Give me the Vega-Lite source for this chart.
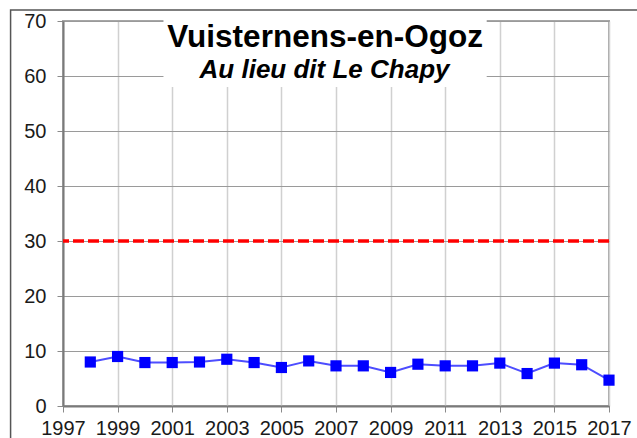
{
  "$schema": "https://vega.github.io/schema/vega-lite/v6.json",
  "width": 546,
  "height": 385,
  "autosize": {"type": "none"},
  "padding": {"left": 63, "top": 21, "right": 28, "bottom": 32},
  "background": "white",
  "config": {
    "font": "Liberation Sans",
    "view": {"stroke": "#a6a6a6", "strokeWidth": 2}
  },
  "data": {
    "values": [
      {"year": 1998, "value": 8.0},
      {"year": 1999, "value": 9.0},
      {"year": 2000, "value": 7.9},
      {"year": 2001, "value": 7.9},
      {"year": 2002, "value": 8.0},
      {"year": 2003, "value": 8.5},
      {"year": 2004, "value": 7.9},
      {"year": 2005, "value": 7.0},
      {"year": 2006, "value": 8.2},
      {"year": 2007, "value": 7.3},
      {"year": 2008, "value": 7.3},
      {"year": 2009, "value": 6.1},
      {"year": 2010, "value": 7.6},
      {"year": 2011, "value": 7.3},
      {"year": 2012, "value": 7.3},
      {"year": 2013, "value": 7.8},
      {"year": 2014, "value": 5.9},
      {"year": 2015, "value": 7.8},
      {"year": 2016, "value": 7.5},
      {"year": 2017, "value": 4.7}
    ]
  },
  "layer": [
    {
      "mark": {"type": "line", "color": "#4d4dff", "strokeWidth": 2,
        "point": {"shape": "square", "size": 125, "filled": true, "fill": "#0000ff", "stroke": "#0000ff", "strokeWidth": 0, "opacity": 1}},
      "encoding": {
        "x": {
          "field": "year", "type": "quantitative",
          "scale": {"domain": [1997, 2017], "nice": false, "zero": false},
          "axis": {
            "title": null,
            "values": [1997,1998,1999,2000,2001,2002,2003,2004,2005,2006,2007,2008,2009,2010,2011,2012,2013,2014,2015,2016,2017],
            "labelExpr": "datum.value % 2 == 1 ? datum.value + '' : ''",
            "labelOverlap": false,
            "labelFontSize": 20,
            "labelColor": "#1a1a1a",
            "labelPadding": 6,
            "labelFlush": false,
            "grid": true,
            "gridColor": "#d0d0d0",
            "gridWidth": 1.5,
            "domainColor": "#7a7a7a",
            "domainWidth": 2,
            "tickColor": "#8a8a8a",
            "tickSize": 6,
            "tickWidth": 1
          }
        },
        "y": {
          "field": "value", "type": "quantitative",
          "scale": {"domain": [0, 70], "nice": false},
          "axis": {
            "title": null,
            "values": [0, 10, 20, 30, 40, 50, 60, 70],
            "labelFontSize": 20,
            "labelColor": "#1a1a1a",
            "labelPadding": 11,
            "labelFlush": false,
            "grid": true,
            "gridColor": "#9a9a9a",
            "gridWidth": 1,
            "domainColor": "#7a7a7a",
            "domainWidth": 2,
            "tickColor": "#8a8a8a",
            "tickSize": 6,
            "tickWidth": 1
          }
        }
      }
    },
    {
      "data": {"values": [{}]},
      "mark": {"type": "rect", "fill": "white", "stroke": null},
      "encoding": {
        "x": {"datum": 2000.68, "type": "quantitative"},
        "x2": {"datum": 2012.52},
        "y": {"datum": 58.0, "type": "quantitative"},
        "y2": {"datum": 70.3}
      }
    },
    {
      "data": {"values": [{}]},
      "mark": {"type": "rect", "fill": "transparent", "stroke": "#555555", "strokeWidth": 1.5},
      "encoding": {
        "x": {"datum": 1995.08, "type": "quantitative"},
        "x2": {"datum": 2026},
        "y": {"datum": -20, "type": "quantitative"},
        "y2": {"datum": 72.0}
      }
    },
    {
      "data": {"values": [{}]},
      "mark": {"type": "rule", "color": "#ff0000", "strokeWidth": 3.5, "strokeDash": [11, 4]},
      "encoding": {
        "y": {"datum": 30, "type": "quantitative"}
      }
    },
    {
      "data": {"values": [{}]},
      "mark": {"type": "text", "text": "Vuisternens-en-Ogoz", "fontSize": 31.5, "fontWeight": "bold", "font": "Liberation Sans", "align": "center", "baseline": "alphabetic", "color": "#000000"},
      "encoding": {
        "x": {"datum": 2006.6, "type": "quantitative"},
        "y": {"datum": 65.27, "type": "quantitative"}
      }
    },
    {
      "data": {"values": [{}]},
      "mark": {"type": "text", "text": "Au lieu dit Le Chapy", "fontSize": 26, "fontWeight": "bold", "fontStyle": "italic", "font": "Liberation Sans", "align": "center", "baseline": "alphabetic", "color": "#000000"},
      "encoding": {
        "x": {"datum": 2006.58, "type": "quantitative"},
        "y": {"datum": 59.6, "type": "quantitative"}
      }
    }
  ]
}
